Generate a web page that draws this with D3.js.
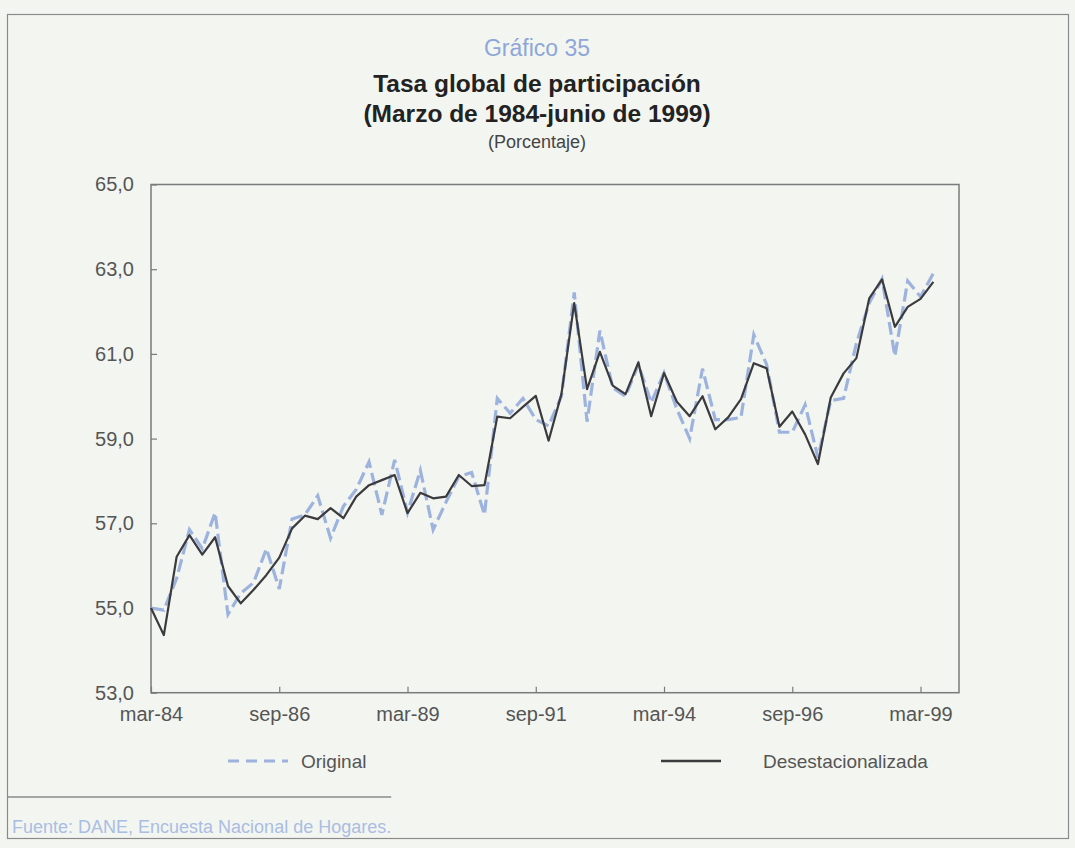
<!DOCTYPE html>
<html>
<head>
<meta charset="utf-8">
<script src="https://cdn.jsdelivr.net/npm/d3@7"></script>
<style>
  html, body { margin: 0; padding: 0; background: #f3f5f1; }
  svg { display: block; }
  .lab { font-family: "Liberation Sans", Arial, sans-serif; }
</style>
</head>
<body>
<svg id="chart" width="1075" height="848"></svg>
<script>
// Quarterly periods, March 1984 to June 1999
const months = ["mar", "jun", "sep", "dic"];
const periods = [];
for (let yr = 1984; yr <= 1999; yr++) {
  for (let q = 0; q < 4; q++) {
    if (yr === 1999 && q > 1) break;
    periods.push(months[q] + "-" + String(yr).slice(2));
  }
}

// Tasa global de participación, serie original (%)
const original = [
  55.0, 54.95, 55.7, 56.85, 56.4, 57.25, 54.85, 55.35, 55.6, 56.4,
  55.45, 57.1, 57.2, 57.65, 56.65, 57.4, 57.8, 58.45, 57.2, 58.5,
  57.25, 58.25, 56.85, 57.5, 58.1, 58.2, 57.2, 59.95, 59.6, 59.95,
  59.45, 59.3, 60.0, 62.45, 59.4, 61.55, 60.2, 60.0, 60.75, 59.85,
  60.55, 59.7, 59.0, 60.65, 59.45, 59.45, 59.5, 61.45, 60.75, 59.15,
  59.15, 59.8, 58.55, 59.9, 59.95, 61.25, 62.2, 62.77, 60.95, 62.72,
  62.35, 62.9
];

// Serie desestacionalizada (%)
const desestacionalizada = [
  55.0, 54.36, 56.21, 56.72, 56.26, 56.67, 55.52, 55.11, 55.43, 55.78,
  56.19, 56.88, 57.18, 57.1, 57.36, 57.12, 57.63, 57.9, 58.02, 58.14,
  57.24, 57.72, 57.59, 57.63, 58.14, 57.88, 57.9, 59.52, 59.48, 59.75,
  60.01, 58.95, 60.05, 62.2, 60.17, 61.05, 60.25, 60.05, 60.8, 59.53,
  60.55, 59.87, 59.53, 60.0, 59.22, 59.5, 59.93, 60.78, 60.66, 59.28,
  59.64, 59.1, 58.4, 59.97, 60.54, 60.9, 62.31, 62.76, 61.64, 62.11,
  62.3, 62.7
];

const xTickLabels = ["mar-84", "sep-86", "mar-89", "sep-91", "mar-94", "sep-96", "mar-99"];
const yTicks = [53, 55, 57, 59, 61, 63, 65];

const svg = d3.select("#chart");

// outer page box
svg.append("rect")
  .attr("x", 7.5).attr("y", 14.5).attr("width", 1061).attr("height", 824)
  .attr("fill", "#f3f5f1").attr("stroke", "#8a8a8a").attr("stroke-width", 1.2);

// titles
const cx = 537;
svg.append("text").attr("x", cx).attr("y", 56).attr("text-anchor", "middle")
  .attr("class", "lab").attr("font-size", 23).attr("fill", "#8ea7d8").text("Gráfico 35");
svg.append("text").attr("x", cx).attr("y", 92).attr("text-anchor", "middle")
  .attr("class", "lab").attr("font-weight", "bold")
  .attr("font-size", 24.5).attr("fill", "#222").text("Tasa global de participación");
svg.append("text").attr("x", cx).attr("y", 122).attr("text-anchor", "middle")
  .attr("class", "lab").attr("font-weight", "bold")
  .attr("font-size", 24.5).attr("fill", "#222").text("(Marzo de 1984-junio de 1999)");
svg.append("text").attr("x", cx).attr("y", 148).attr("text-anchor", "middle")
  .attr("class", "lab").attr("font-size", 18).attr("fill", "#444").text("(Porcentaje)");

// scales
const plotLeft = 151, plotRight = 959, plotTop = 184.5, plotBottom = 692.7;
const x = d3.scaleLinear().domain([0, 63]).range([plotLeft, plotRight]);
const y = d3.scaleLinear().domain([53, 65]).range([plotBottom, plotTop]);

// plot frame
svg.append("rect")
  .attr("x", plotLeft).attr("y", plotTop)
  .attr("width", plotRight - plotLeft).attr("height", plotBottom - plotTop)
  .attr("fill", "none").attr("stroke", "#7a7a7a").attr("stroke-width", 1.5);

// y axis (ticks point inward)
const yAxis = d3.axisLeft(y).tickValues(yTicks).tickSize(-6).tickPadding(17)
  .tickFormat(d => d3.format(".1f")(d).replace(".", ","));
const gy = svg.append("g").attr("transform", `translate(${plotLeft},0)`).call(yAxis);
gy.select(".domain").remove();
gy.selectAll(".tick line").attr("stroke", "#7a7a7a").attr("stroke-width", 1.2);
gy.selectAll(".tick text").attr("class", "lab").attr("font-size", 20).attr("fill", "#555");

// x axis (ticks point inward)
const xTickIdx = xTickLabels.map(l => periods.indexOf(l));
const xAxis = d3.axisBottom(x).tickValues(xTickIdx).tickSize(-6).tickPadding(14)
  .tickFormat(i => periods[i]);
const gx = svg.append("g").attr("transform", `translate(0,${plotBottom})`).call(xAxis);
gx.select(".domain").remove();
gx.selectAll(".tick line").attr("stroke", "#7a7a7a").attr("stroke-width", 1.2);
gx.selectAll(".tick text").attr("class", "lab").attr("font-size", 20).attr("fill", "#555");

// series
const line = d3.line().x((d, i) => x(i)).y(d => y(d));
svg.append("path").datum(original)
  .attr("d", line).attr("fill", "none")
  .attr("stroke", "#9db3de").attr("stroke-width", 3.2)
  .attr("stroke-dasharray", "13,5");
svg.append("path").datum(desestacionalizada)
  .attr("d", line).attr("fill", "none")
  .attr("stroke", "#3b3b3d").attr("stroke-width", 2.2)
  .attr("stroke-linejoin", "round");

// legend
const ly = 761;
svg.append("line").attr("x1", 228).attr("x2", 288).attr("y1", ly).attr("y2", ly)
  .attr("stroke", "#9db3de").attr("stroke-width", 3).attr("stroke-dasharray", "11,7");
svg.append("text").attr("x", 301).attr("y", ly + 7).attr("class", "lab")
  .attr("font-size", 19).attr("fill", "#555").text("Original");
svg.append("line").attr("x1", 661).attr("x2", 721).attr("y1", ly).attr("y2", ly)
  .attr("stroke", "#3b3b3d").attr("stroke-width", 2.5);
svg.append("text").attr("x", 763).attr("y", ly + 7).attr("class", "lab")
  .attr("font-size", 19).attr("fill", "#555").text("Desestacionalizada");

// source note with a rule as long as the note
const src = svg.append("text").attr("x", 12).attr("y", 833).attr("class", "lab")
  .attr("font-size", 18).attr("fill", "#aabde2").text("Fuente: DANE, Encuesta Nacional de Hogares.");
const srcEnd = 12 + src.node().getComputedTextLength();
svg.append("line").attr("x1", 8).attr("x2", srcEnd).attr("y1", 797).attr("y2", 797)
  .attr("stroke", "#8a8a8a").attr("stroke-width", 1.5);
</script>
</body>
</html>
